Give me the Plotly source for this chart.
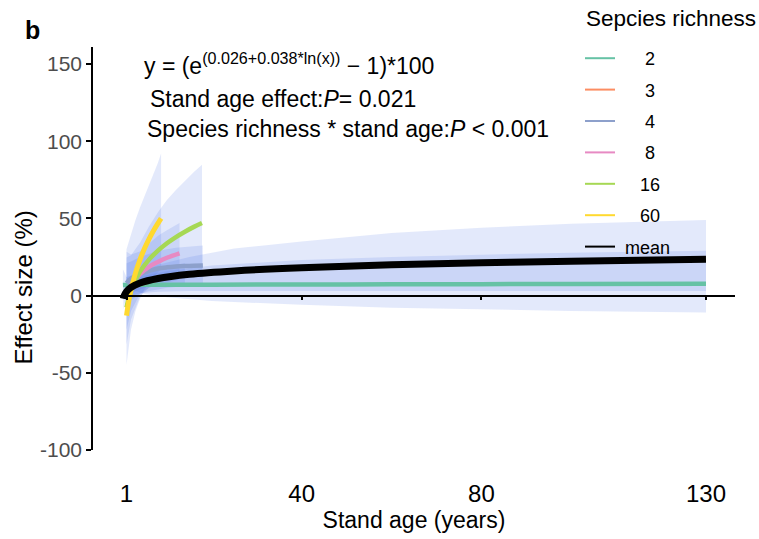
import plotly.graph_objects as go

# Richness levels and their line colours
richness = ["2", "3", "4", "8", "16", "60"]
colors = ["#66C2A5", "#FC8D62", "#8DA0CB", "#E78AC3", "#A6D854", "#FFD92F"]

# Fitted effect (%) and 95% CI per richness level along stand age (years)
age_r2 = [0.2, 1, 2, 5, 10, 20, 40, 60, 80, 100, 130]
eff_r2 = [6.8, 6.9, 6.9, 7.0, 7.0, 7.1, 7.2, 7.3, 7.4, 7.5, 7.6]
lo_r2 = [-3, 2, 4, 1, -1, -3.5, -6, -7.8, -9, -10, -11]
hi_r2 = [17, 12, 10, 13, 16, 19.5, 23, 25, 26.5, 27.8, 29]

age_r3 = [1, 2, 4, 6, 8, 10, 12, 14]
eff_r3 = [1.5, 4.5, 7.5, 9.3, 10.5, 11.5, 12.3, 13.0]
lo_r3 = [-8, -3, 1, 3, 4, 5, 5.5, 6]
hi_r3 = [12, 13, 15, 17, 18, 19, 20, 21]

age_r4 = [1, 2, 4, 6, 8, 10, 12, 14, 16, 18]
eff_r4 = [8, 11, 14, 16, 17.5, 18.3, 18.8, 19.1, 19.3, 19.5]
lo_r4 = [-4, 1, 4, 6, 7, 7.5, 8, 8, 8, 8]
hi_r4 = [21, 22, 25, 27, 29, 30, 31, 31.5, 32, 32.5]

age_r8 = [1, 2, 4, 6, 8, 10, 12.8]
eff_r8 = [0.0, 6.8, 14.1, 18.6, 21.8, 24.5, 27.4]
lo_r8 = [-22.1, -9.9, 1.2, 5.1, 7.0, 8.7, 10.4]
hi_r8 = [28.4, 26.6, 28.6, 33.7, 38.7, 42.4, 47.0]

age_r16 = [1, 2, 4, 6, 8, 10, 12, 14, 16, 17.8]
eff_r16 = [-7.7, 3.3, 15.5, 23.3, 29.1, 33.9, 37.9, 41.4, 44.5, 47.0]
lo_r16 = [-31.6, -15.5, -0.6, 5.1, 8.4, 10.7, 12.9, 14.6, 15.9, 16.9]
hi_r16 = [24.6, 26.1, 34.2, 44.7, 53.9, 61.9, 68.4, 74.4, 80.0, 84.8]

age_r60 = [1, 1.5, 2, 3, 4, 5, 6, 7, 8, 8.7]
eff_r60 = [-13, -3.6, 3.6, 14.7, 23.3, 30.5, 36.6, 42, 46.8, 50]
lo_r60 = [-45, -33, -22, -10, -2, 4, 8, 12, 15, 17]
hi_r60 = [30, 35, 40, 49, 57, 64, 72, 79, 86, 92]

# Overall mean response and its 95% CI
age_mean = [0.3, 0.5, 1, 2, 4, 8, 15, 25, 40, 60, 80, 100, 130]
eff_mean = [-2.0, 0.0, 2.6, 5.4, 8.2, 11.1, 13.8, 16.0, 18.1, 19.9, 21.2, 22.3, 23.5]
lo_mean = [-9, -6, -2, 0, 1.5, 2.5, 3, 3, 3, 3, 3, 3, 3]
hi_mean = [6, 7, 8, 11, 15, 20, 25, 30.5, 35, 40.5, 44, 46.5, 49]

series = [
    (age_r2, eff_r2, lo_r2, hi_r2),
    (age_r3, eff_r3, lo_r3, hi_r3),
    (age_r4, eff_r4, lo_r4, hi_r4),
    (age_r8, eff_r8, lo_r8, hi_r8),
    (age_r16, eff_r16, lo_r16, hi_r16),
    (age_r60, eff_r60, lo_r60, hi_r60),
]

x_ticks = [1, 40, 80, 130]
y_ticks = [-100, -50, 0, 50, 100, 150]
y_ticktext = ["-100", "-50", "0", "50", "100", "150"]
x_range = [-6.46, 136.46]
y_range = [-100, 161]

band_fill = "rgba(65,105,225,0.15)"
font = "Arial, Liberation Sans, sans-serif"

fig = go.Figure()

# confidence ribbons
for ages, eff, lo, hi in series + [(age_mean, eff_mean, lo_mean, hi_mean)]:
    fig.add_trace(go.Scatter(
        x=ages + ages[::-1], y=hi + lo[::-1],
        fill="toself", fillcolor=band_fill, mode="lines",
        line=dict(width=0), showlegend=False, hoverinfo="skip"))

# fitted lines per richness level
widths = [4.5, 4.5, 4.5, 4.5, 4.5, 5]
for (ages, eff, lo, hi), col, w in zip(series, colors, widths):
    fig.add_trace(go.Scatter(
        x=ages, y=eff, mode="lines", line=dict(color=col, width=w, shape="spline"),
        showlegend=False))

# overall mean
fig.add_trace(go.Scatter(
    x=age_mean, y=eff_mean, mode="lines",
    line=dict(color="black", width=7, shape="spline"), showlegend=False))

# legend entries (thin keys, labels centred under the title)
labels = ["\u00a0\u00a0\u00a0\u00a0\u00a0" + r if len(r) == 1 else "\u00a0\u00a0\u00a0\u00a0" + r for r in richness]
for lab, col in zip(labels, colors):
    fig.add_trace(go.Scatter(x=[None], y=[None], mode="lines",
                             line=dict(color=col, width=2), name=lab,
                             legendgroup=lab))
fig.add_trace(go.Scatter(x=[None], y=[None], mode="lines",
                         line=dict(color="black", width=2), name="\u00a0mean",
                         legendgroup="mean"))

# carrier for the axis drawn along y = 0
fig.add_trace(go.Scatter(x=[None], y=[None], xaxis="x2", showlegend=False,
                         hoverinfo="skip"))

zero_pos = (0 - y_range[0]) / (y_range[1] - y_range[0])


def px_x(p):
    return (p - 93) / 642


def px_y(p):
    return (450 - p) / 403


fig.update_layout(
    width=759, height=539,
    margin=dict(l=93, r=24, t=47, b=89, autoexpand=False),
    paper_bgcolor="white", plot_bgcolor="white",
    font=dict(family=font, color="black"),
    xaxis=dict(range=x_range, tickvals=x_ticks, ticktext=[str(t) for t in x_ticks],
               showline=False, showgrid=False, zeroline=False,
               ticks="outside", ticklen=22, tickcolor="rgba(0,0,0,0)",
               tickfont=dict(size=24, color="black"),
               title=dict(text="Stand age (years)", font=dict(size=23), standoff=4)),
    xaxis2=dict(range=x_range, overlaying="x", anchor="free", position=zero_pos,
                side="bottom", showline=True, linecolor="black", linewidth=1.5,
                ticks="outside", ticklen=4, tickwidth=1.5, tickcolor="black",
                tickvals=x_ticks, showticklabels=False, showgrid=False,
                zeroline=False),
    yaxis=dict(range=y_range, tickvals=y_ticks, ticktext=y_ticktext,
               showline=True, linecolor="black",
               linewidth=1.5, ticks="outside", ticklen=5, tickwidth=1.5,
               tickcolor="black", showgrid=False, zeroline=False,
               tickfont=dict(size=21, color="#4D4D4D")),
    legend=dict(x=px_x(580), y=px_y(40), xanchor="left", yanchor="top",
                bgcolor="rgba(0,0,0,0)", font=dict(size=18),
                traceorder="grouped", tracegroupgap=5),
)

ann = [
    dict(text="<b>b</b>", x=px_x(32), y=px_y(30), size=25),
    dict(text="Sepcies richness", x=px_x(584), y=px_y(18), size=22.5, left=True),
    dict(text="y = (e<sup>(0.026+0.038*ln(x))</sup> \u2212 1)*100", x=px_x(142), y=px_y(64), size=23, left=True),
    dict(text="Stand age effect:<i>P</i>= 0.021", x=px_x(148), y=px_y(99), size=23, left=True),
    dict(text="Species richness * stand age:<i>P</i> &lt; 0.001", x=px_x(145), y=px_y(129), size=23, left=True),
]
for a in ann:
    fig.add_annotation(text=a["text"], x=a["x"], y=a["y"], xref="paper", yref="paper",
                       xanchor="left" if a.get("left") else "center", yanchor="middle",
                       showarrow=False, font=dict(size=a["size"], color="black"))

fig.add_annotation(text="Effect size (%)", x=px_x(7), y=px_y(288), xref="paper",
                   yref="paper", textangle=-90, showarrow=False,
                   font=dict(size=24, color="black"))

fig.write_html("out.html")
